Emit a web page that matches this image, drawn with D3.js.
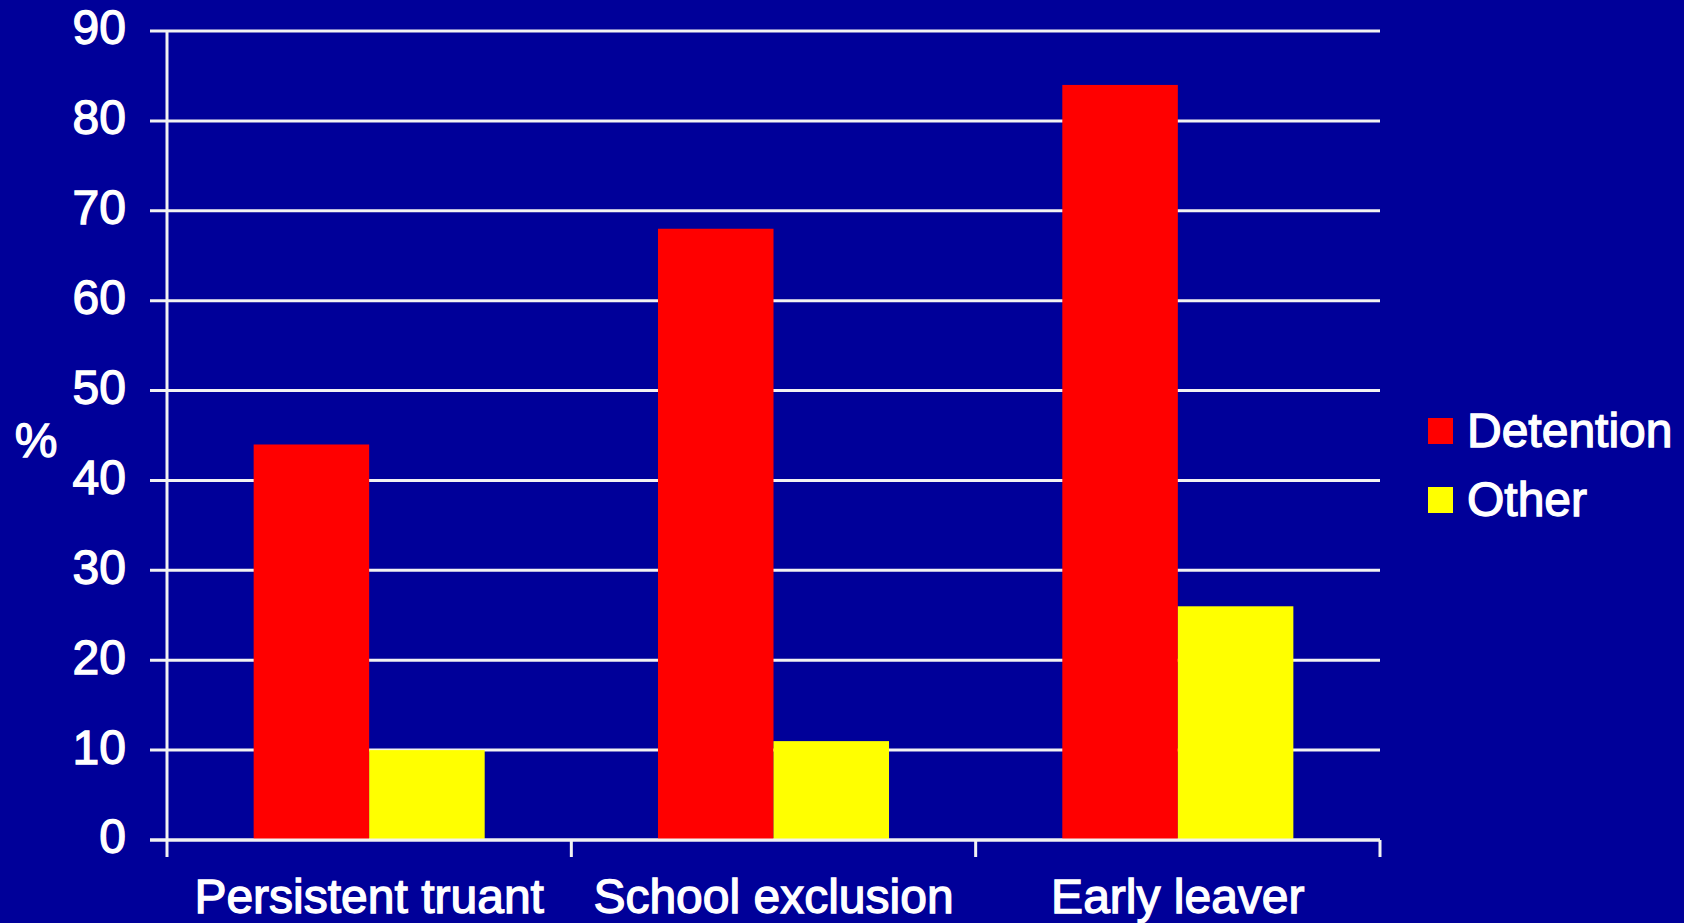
<!DOCTYPE html>
<html>
<head>
<meta charset="utf-8">
<script src="https://cdn.jsdelivr.net/npm/d3@7"></script>
<style>
  html, body { margin: 0; padding: 0; background: #000099; }
  svg { display: block; }
  text { font-family: "Liberation Sans", Arial, sans-serif; fill: #ffffff; stroke: #ffffff; stroke-width: 1.3px; }
</style>
</head>
<body>
<svg id="chart" width="1684" height="923"></svg>
<script>
const categories = ["Persistent truant", "School exclusion", "Early leaver"];
const seriesNames = ["Detention", "Other"];
const detention = [44, 68, 84];
const other = [10, 11, 26];
const yTicks = [0, 10, 20, 30, 40, 50, 60, 70, 80, 90];
const colors = ["#ff0000", "#ffff00"];

const seriesValues = [detention, other];

(function () {
const svg = d3.select("#chart");
svg.append("rect").attr("width", 1684).attr("height", 923).attr("fill", "#000099");

const plotLeft = 167, plotRight = 1380, plotTop = 31, plotBottom = 840;
const fontSize = 48;

const x0 = d3.scaleBand().domain(categories).range([plotLeft, plotRight]).padding(0);
const bw = x0.bandwidth();
const gap = bw * 0.75 / 3.5;
const x1 = d3.scaleBand().domain(seriesNames).range([gap, bw - gap]).padding(0);
const y = d3.scaleLinear().domain([0, 90]).range([plotBottom, plotTop]);

const lineColor = "#f2f2f2";

// gridlines with left ticks
svg.append("g").selectAll("line").data(yTicks).enter().append("line")
  .attr("x1", plotLeft - 17).attr("x2", plotRight)
  .attr("y1", d => y(d)).attr("y2", d => y(d))
  .attr("stroke", lineColor).attr("stroke-width", 3);

// bars
const groups = svg.append("g").selectAll("g").data(categories).enter().append("g")
  .attr("transform", d => `translate(${x0(d)},0)`);
groups.selectAll("rect").data((c, i) => seriesNames.map((s, j) => ({ s, v: seriesValues[j][i], j })))
  .enter().append("rect")
  .attr("x", d => x1(d.s))
  .attr("width", x1.bandwidth())
  .attr("y", d => y(d.v))
  .attr("height", d => y(0) - y(d.v))
  .attr("fill", d => colors[d.j]);

// y axis line
svg.append("line").attr("x1", plotLeft).attr("x2", plotLeft).attr("y1", plotTop).attr("y2", plotBottom + 17)
  .attr("stroke", lineColor).attr("stroke-width", 3);
// x axis line
svg.append("line").attr("x1", plotLeft - 17).attr("x2", plotRight).attr("y1", plotBottom).attr("y2", plotBottom)
  .attr("stroke", lineColor).attr("stroke-width", 3);
// category ticks
const catTicks = categories.map(c => x0(c) + bw);
svg.append("g").selectAll("line").data(catTicks).enter().append("line")
  .attr("x1", d => d).attr("x2", d => d).attr("y1", plotBottom).attr("y2", plotBottom + 17)
  .attr("stroke", lineColor).attr("stroke-width", 3);

// y tick labels
svg.append("g").selectAll("text").data(yTicks).enter().append("text")
  .attr("x", 126).attr("y", d => y(d)).attr("dy", "0.28em")
  .attr("text-anchor", "end").attr("font-size", fontSize)
  .text(d => d);

// y axis title
svg.append("text").attr("x", 36).attr("y", 440).attr("dy", "0.35em")
  .attr("text-anchor", "middle").attr("font-size", fontSize).text("%");

// category labels
svg.append("g").selectAll("text").data(categories).enter().append("text")
  .attr("x", d => x0(d) + bw / 2).attr("y", 913)
  .attr("text-anchor", "middle").attr("font-size", fontSize)
  .text(d => d);

// legend
const legend = svg.append("g").selectAll("g").data(seriesNames).enter().append("g")
  .attr("transform", (d, i) => `translate(1428,${418 + i * 69})`);
legend.append("rect").attr("width", 25).attr("height", 26).attr("fill", (d, i) => colors[i]);
legend.append("text").attr("x", 39).attr("y", 29).attr("font-size", fontSize).text(d => d);
})();
</script>
</body>
</html>
